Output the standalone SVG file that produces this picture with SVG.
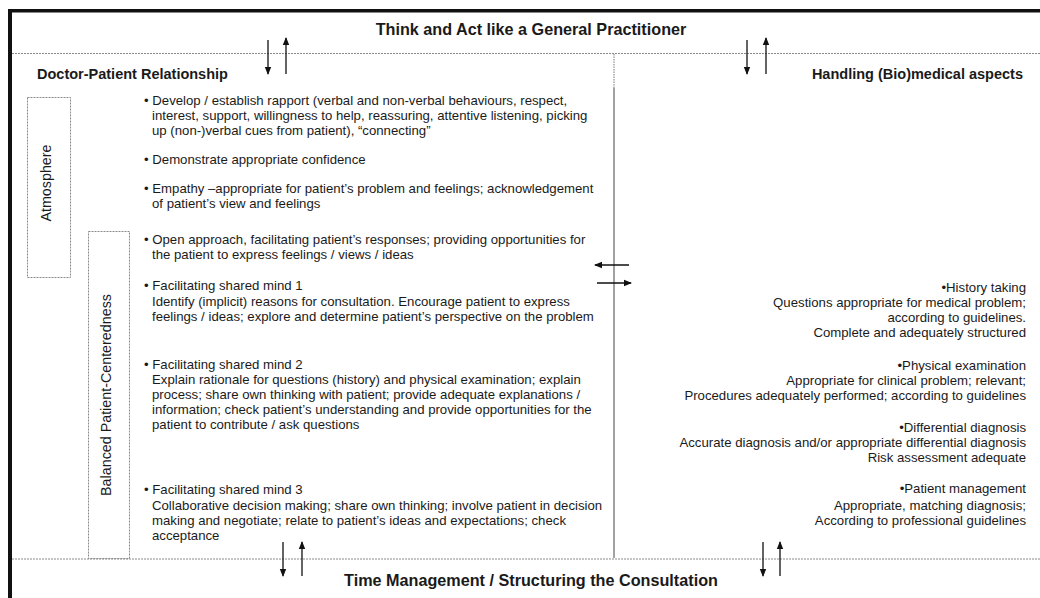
<svg xmlns="http://www.w3.org/2000/svg" width="1040" height="598" viewBox="0 0 1040 598">
<style>
text{font-family:"Liberation Sans",Arial,sans-serif;fill:#1a1a1a}
.h{font-size:16.2px;font-weight:bold}
.s{font-size:14.5px;font-weight:bold}
.b{font-size:13.2px}
.r{font-size:13.2px;text-anchor:end}
.v{font-size:14.3px;text-anchor:middle}
.dash{stroke:#8a8a8a;stroke-width:1;stroke-dasharray:2 1;fill:none}
.arr{stroke:#111;stroke-width:1.3;fill:none}
</style>
<defs>
<marker id="ah" markerUnits="userSpaceOnUse" markerWidth="8" markerHeight="8" viewBox="0 0 8 8" refX="7" refY="4" orient="auto">
<path d="M0,0.8 L8,4 L0,7.2 Z" fill="#111"/>
</marker>
</defs>
<g id="frame">
<rect x="8" y="9" width="1032" height="3.5" fill="#111"/>
<rect x="8" y="9" width="4" height="589" fill="#111"/>
<line class="dash" x1="12" y1="53.5" x2="1040" y2="53.5"/>
<line class="dash" x1="12" y1="559" x2="1040" y2="559"/>
<line x1="614" y1="54" x2="614" y2="88" stroke="#777" stroke-width="1" stroke-dasharray="1.5 1"/>
<line x1="614" y1="88" x2="614" y2="558" stroke="#444" stroke-width="1"/>
</g>
<g id="title-top"><text class="h" x="531" y="35" text-anchor="middle">Think and Act like a General Practitioner</text></g>
<g id="title-bottom"><text class="h" x="531" y="586" text-anchor="middle">Time Management / Structuring the Consultation</text></g>
<g id="doctor-patient">
<text class="s" x="37" y="79">Doctor-Patient Relationship</text>
</g>
<g id="biomedical">
<text class="s" x="1023" y="79" text-anchor="end">Handling (Bio)medical aspects</text>
</g>
<g id="atmosphere">
<rect class="dash" x="27.5" y="97.5" width="43" height="180"/>
<text class="v" transform="translate(50.5,183) rotate(-90)">Atmosphere</text>
</g>
<g id="balanced">
<rect class="dash" x="88.5" y="231.5" width="41" height="327"/>
<text class="v" transform="translate(111,395) rotate(-90)">Balanced Patient-Centeredness</text>
</g>
<g id="left-items">
<text class="b" x="144" y="105">• Develop / establish rapport (verbal and non-verbal behaviours, respect,</text>
<text class="b" x="152" y="120">interest, support, willingness to help, reassuring, attentive listening, picking</text>
<text class="b" x="152" y="135">up (non-)verbal cues from patient), “connecting”</text>
<text class="b" x="144" y="164">• Demonstrate appropriate confidence</text>
<text class="b" x="144" y="193">• Empathy –appropriate for patient’s problem and feelings; acknowledgement</text>
<text class="b" x="152" y="208">of patient’s view and feelings</text>
<text class="b" x="144" y="244">• Open approach, facilitating patient’s responses; providing opportunities for</text>
<text class="b" x="152" y="259">the patient to express feelings / views / ideas</text>
<text class="b" x="144" y="290">• Facilitating shared mind 1</text>
<text class="b" x="152" y="306">Identify (implicit) reasons for consultation. Encourage patient to express</text>
<text class="b" x="152" y="321">feelings / ideas; explore and determine patient’s perspective on the problem</text>
<text class="b" x="144" y="369">• Facilitating shared mind 2</text>
<text class="b" x="152" y="384">Explain rationale for questions (history) and physical examination; explain</text>
<text class="b" x="152" y="399">process; share own thinking with patient; provide adequate explanations /</text>
<text class="b" x="152" y="414">information; check patient’s understanding and provide opportunities for the</text>
<text class="b" x="152" y="429">patient to contribute / ask questions</text>
<text class="b" x="144" y="494">• Facilitating shared mind 3</text>
<text class="b" x="152" y="510">Collaborative decision making; share own thinking; involve patient in decision</text>
<text class="b" x="152" y="525">making and negotiate; relate to patient’s ideas and expectations; check</text>
<text class="b" x="152" y="540">acceptance</text>
</g>
<g id="right-items">
<text class="r" x="1026" y="292">•History taking</text>
<text class="r" x="1026" y="307">Questions appropriate for medical problem;</text>
<text class="r" x="1026" y="322">according to guidelines.</text>
<text class="r" x="1026" y="337">Complete and adequately structured</text>
<text class="r" x="1026" y="370">•Physical examination</text>
<text class="r" x="1026" y="385">Appropriate for clinical problem; relevant;</text>
<text class="r" x="1026" y="400">Procedures adequately performed; according to guidelines</text>
<text class="r" x="1026" y="432">•Differential diagnosis</text>
<text class="r" x="1026" y="447">Accurate diagnosis and/or appropriate differential diagnosis</text>
<text class="r" x="1026" y="462">Risk assessment adequate</text>
<text class="r" x="1026" y="493">•Patient management</text>
<text class="r" x="1026" y="510">Appropriate, matching diagnosis;</text>
<text class="r" x="1026" y="525">According to professional guidelines</text>
</g>
<g id="connectors">
<line class="arr" x1="268" y1="40" x2="268" y2="74" marker-end="url(#ah)"/>
<line class="arr" x1="286" y1="74" x2="286" y2="38" marker-end="url(#ah)"/>
<line class="arr" x1="747" y1="40" x2="747" y2="74" marker-end="url(#ah)"/>
<line class="arr" x1="766" y1="74" x2="766" y2="38" marker-end="url(#ah)"/>
<line class="arr" x1="629" y1="265" x2="595" y2="265" marker-end="url(#ah)"/>
<line class="arr" x1="597" y1="283" x2="631" y2="283" marker-end="url(#ah)"/>
<line class="arr" x1="283" y1="542" x2="283" y2="576" marker-end="url(#ah)"/>
<line class="arr" x1="302" y1="576" x2="302" y2="542" marker-end="url(#ah)"/>
<line class="arr" x1="763" y1="542" x2="763" y2="576" marker-end="url(#ah)"/>
<line class="arr" x1="780" y1="576" x2="780" y2="542" marker-end="url(#ah)"/>
</g>
</svg>
